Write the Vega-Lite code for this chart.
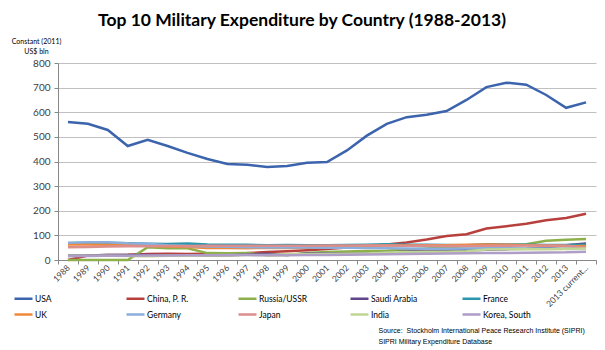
{
  "$schema": "https://vega.github.io/schema/vega-lite/v6.json",
  "width": 538,
  "height": 197,
  "autosize": "none",
  "padding": {"left": 58, "top": 63, "right": 9, "bottom": 90},
  "background": "white",
  "title": {
    "text": "Top 10 Military Expenditure by Country (1988-2013)",
    "font": "Lato",
    "fontSize": 17.5,
    "fontWeight": "bold",
    "color": "#000000",
    "anchor": "middle",
    "frame": "group",
    "dx": -25,
    "offset": 8
  },
  "datasets": {
    "wide": [
      {"year": "1988", "USA": 560, "China": 0, "Russia": 0, "Saudi": 18, "France": 68, "UK": 63, "Germany": 70, "Japan": 52, "India": 17, "Korea": 15},
      {"year": "1989", "USA": 553, "China": 18, "Russia": 0, "Saudi": 18, "France": 69, "UK": 63, "Germany": 72, "Japan": 53, "India": 17, "Korea": 16},
      {"year": "1990", "USA": 528, "China": 20, "Russia": 0, "Saudi": 20, "France": 69, "UK": 62, "Germany": 72, "Japan": 55, "India": 17, "Korea": 17},
      {"year": "1991", "USA": 463, "China": 21, "Russia": 0, "Saudi": 20, "France": 68, "UK": 63, "Germany": 68, "Japan": 56, "India": 16, "Korea": 17},
      {"year": "1992", "USA": 488, "China": 24, "Russia": 52, "Saudi": 20, "France": 66, "UK": 58, "Germany": 66, "Japan": 56, "India": 15, "Korea": 18},
      {"year": "1993", "USA": 463, "China": 25, "Russia": 48, "Saudi": 19, "France": 65, "UK": 55, "Germany": 60, "Japan": 57, "India": 17, "Korea": 18},
      {"year": "1994", "USA": 435, "China": 24, "Russia": 48, "Saudi": 19, "France": 67, "UK": 53, "Germany": 57, "Japan": 57, "India": 17, "Korea": 19},
      {"year": "1995", "USA": 410, "China": 25, "Russia": 28, "Saudi": 18, "France": 63, "UK": 49, "Germany": 55, "Japan": 58, "India": 18, "Korea": 19},
      {"year": "1996", "USA": 390, "China": 27, "Russia": 27, "Saudi": 18, "France": 62, "UK": 49, "Germany": 54, "Japan": 58, "India": 18, "Korea": 20},
      {"year": "1997", "USA": 387, "China": 28, "Russia": 28, "Saudi": 22, "France": 62, "UK": 48, "Germany": 52, "Japan": 58, "India": 20, "Korea": 20},
      {"year": "1998", "USA": 378, "China": 32, "Russia": 19, "Saudi": 25, "France": 60, "UK": 49, "Germany": 51, "Japan": 58, "India": 20, "Korea": 19},
      {"year": "1999", "USA": 382, "China": 36, "Russia": 20, "Saudi": 20, "France": 61, "UK": 49, "Germany": 51, "Japan": 58, "India": 23, "Korea": 19},
      {"year": "2000", "USA": 395, "China": 40, "Russia": 28, "Saudi": 26, "France": 60, "UK": 50, "Germany": 51, "Japan": 58, "India": 24, "Korea": 20},
      {"year": "2001", "USA": 398, "China": 45, "Russia": 32, "Saudi": 27, "France": 60, "UK": 51, "Germany": 50, "Japan": 59, "India": 25, "Korea": 20},
      {"year": "2002", "USA": 445, "China": 51, "Russia": 35, "Saudi": 25, "France": 61, "UK": 54, "Germany": 50, "Japan": 59, "India": 25, "Korea": 21},
      {"year": "2003", "USA": 505, "China": 57, "Russia": 37, "Saudi": 26, "France": 62, "UK": 58, "Germany": 49, "Japan": 59, "India": 26, "Korea": 22},
      {"year": "2004", "USA": 553, "China": 63, "Russia": 38, "Saudi": 29, "France": 64, "UK": 59, "Germany": 48, "Japan": 59, "India": 30, "Korea": 23},
      {"year": "2005", "USA": 580, "China": 71, "Russia": 43, "Saudi": 35, "France": 62, "UK": 59, "Germany": 47, "Japan": 58, "India": 32, "Korea": 24},
      {"year": "2006", "USA": 590, "China": 83, "Russia": 47, "Saudi": 38, "France": 62, "UK": 60, "Germany": 46, "Japan": 58, "India": 33, "Korea": 25},
      {"year": "2007", "USA": 605, "China": 97, "Russia": 52, "Saudi": 43, "France": 61, "UK": 60, "Germany": 46, "Japan": 57, "India": 33, "Korea": 26},
      {"year": "2008", "USA": 650, "China": 105, "Russia": 56, "Saudi": 40, "France": 60, "UK": 62, "Germany": 47, "Japan": 57, "India": 36, "Korea": 27},
      {"year": "2009", "USA": 702, "China": 128, "Russia": 58, "Saudi": 42, "France": 64, "UK": 63, "Germany": 48, "Japan": 58, "India": 43, "Korea": 28},
      {"year": "2010", "USA": 720, "China": 137, "Russia": 59, "Saudi": 44, "France": 63, "UK": 62, "Germany": 48, "Japan": 58, "India": 44, "Korea": 28},
      {"year": "2011", "USA": 712, "China": 147, "Russia": 64, "Saudi": 46, "France": 62, "UK": 60, "Germany": 47, "Japan": 59, "India": 45, "Korea": 29},
      {"year": "2012", "USA": 670, "China": 161, "Russia": 78, "Saudi": 52, "France": 61, "UK": 58, "Germany": 47, "Japan": 59, "India": 44, "Korea": 30},
      {"year": "2013", "USA": 618, "China": 171, "Russia": 82, "Saudi": 60, "France": 61, "UK": 56, "Germany": 46, "Japan": 59, "India": 45, "Korea": 31},
      {"year": "2013 current...", "USA": 640, "China": 188, "Russia": 85, "Saudi": 67, "France": 62, "UK": 57, "Germany": 49, "Japan": 49, "India": 47, "Korea": 34}
    ],
    "names": [
      {"key": "USA", "country": "USA"},
      {"key": "China", "country": "China, P. R."},
      {"key": "Russia", "country": "Russia/USSR"},
      {"key": "Saudi", "country": "Saudi Arabia"},
      {"key": "France", "country": "France"},
      {"key": "UK", "country": "UK"},
      {"key": "Germany", "country": "Germany"},
      {"key": "Japan", "country": "Japan"},
      {"key": "India", "country": "India"},
      {"key": "Korea", "country": "Korea, South"}
    ]
  },
  "data": {"name": "wide"},
  "transform": [
    {"fold": ["USA", "China", "Russia", "Saudi", "France", "UK", "Germany", "Japan", "India", "Korea"], "as": ["key", "value"]},
    {"lookup": "key", "from": {"data": {"name": "names"}, "key": "key", "fields": ["country"]}}
  ],
  "mark": {"type": "line", "strokeWidth": 2.5},
  "encoding": {
    "x": {
      "field": "year",
      "type": "ordinal",
      "sort": null,
      "scale": {"type": "band", "paddingInner": 0, "paddingOuter": 0},
      "axis": {
        "labelAngle": -45,
        "labelAlign": "right",
        "labelBaseline": "middle",
        "labelFont": "Lato",
        "labelFontSize": 8.5,
        "labelColor": "#404040",
        "labelPadding": 2,
        "tickBand": "extent",
        "tickColor": "#888888",
        "tickSize": 4,
        "domainColor": "#888888",
        "grid": false,
        "title": ["Source:\u00a0\u00a0Stockholm International Peace Research Institute (SIPRI)", "\u00a0\u00a0\u00a0\u00a0\u00a0\u00a0\u00a0\u00a0\u00a0\u00a0\u00a0\u00a0\u00a0\u00a0\u00a0\u00a0SIPRI Military Expenditure Database"],
        "titleFont": "Liberation Sans",
        "titleFontSize": 7,
        "titleFontWeight": "normal",
        "titleColor": "#000000",
        "titleAnchor": "start",
        "titleAlign": "left",
        "titleBaseline": "top",
        "titleX": 320,
        "titleY": 66,
        "titleLineHeight": 11
      }
    },
    "y": {
      "field": "value",
      "type": "quantitative",
      "scale": {"domain": [0, 800]},
      "axis": {
        "values": [0, 100, 200, 300, 400, 500, 600, 700, 800],
        "labelFont": "Lato",
        "labelFontSize": 10,
        "labelColor": "#404040",
        "labelPadding": 4,
        "tickSize": 4,
        "tickColor": "#888888",
        "domainColor": "#888888",
        "gridColor": "#C0C0C0",
        "gridWidth": 1,
        "title": ["Constant (2011)", "US$ bln"],
        "titleFont": "Lato",
        "titleFontSize": 7,
        "titleFontWeight": "normal",
        "titleColor": "#000000",
        "titleAngle": 0,
        "titleAlign": "center",
        "titleBaseline": "top",
        "titleX": -22,
        "titleY": -26,
        "titleLineHeight": 10
      }
    },
    "color": {
      "field": "country",
      "type": "nominal",
      "scale": {
        "domain": ["USA", "China, P. R.", "Russia/USSR", "Saudi Arabia", "France", "UK", "Germany", "Japan", "India", "Korea, South"],
        "range": ["#3B64AD", "#B8403C", "#8DB04A", "#5F4589", "#2B97AC", "#F0883A", "#8BAEDC", "#DB8E8C", "#BFD694", "#AE9DC6"]
      },
      "legend": {
        "orient": "none",
        "legendX": -45,
        "legendY": 225,
        "direction": "horizontal",
        "columns": 5,
        "gridAlign": "all",
        "columnPadding": 37,
        "rowPadding": -3,
        "title": null,
        "symbolType": "stroke",
        "symbolSize": 324,
        "symbolStrokeWidth": 2.5,
        "labelFont": "Lato",
        "labelFontSize": 8.5,
        "labelColor": "#000000",
        "labelOffset": 1
      }
    }
  },
  "config": {
    "view": {"stroke": null}
  }
}
